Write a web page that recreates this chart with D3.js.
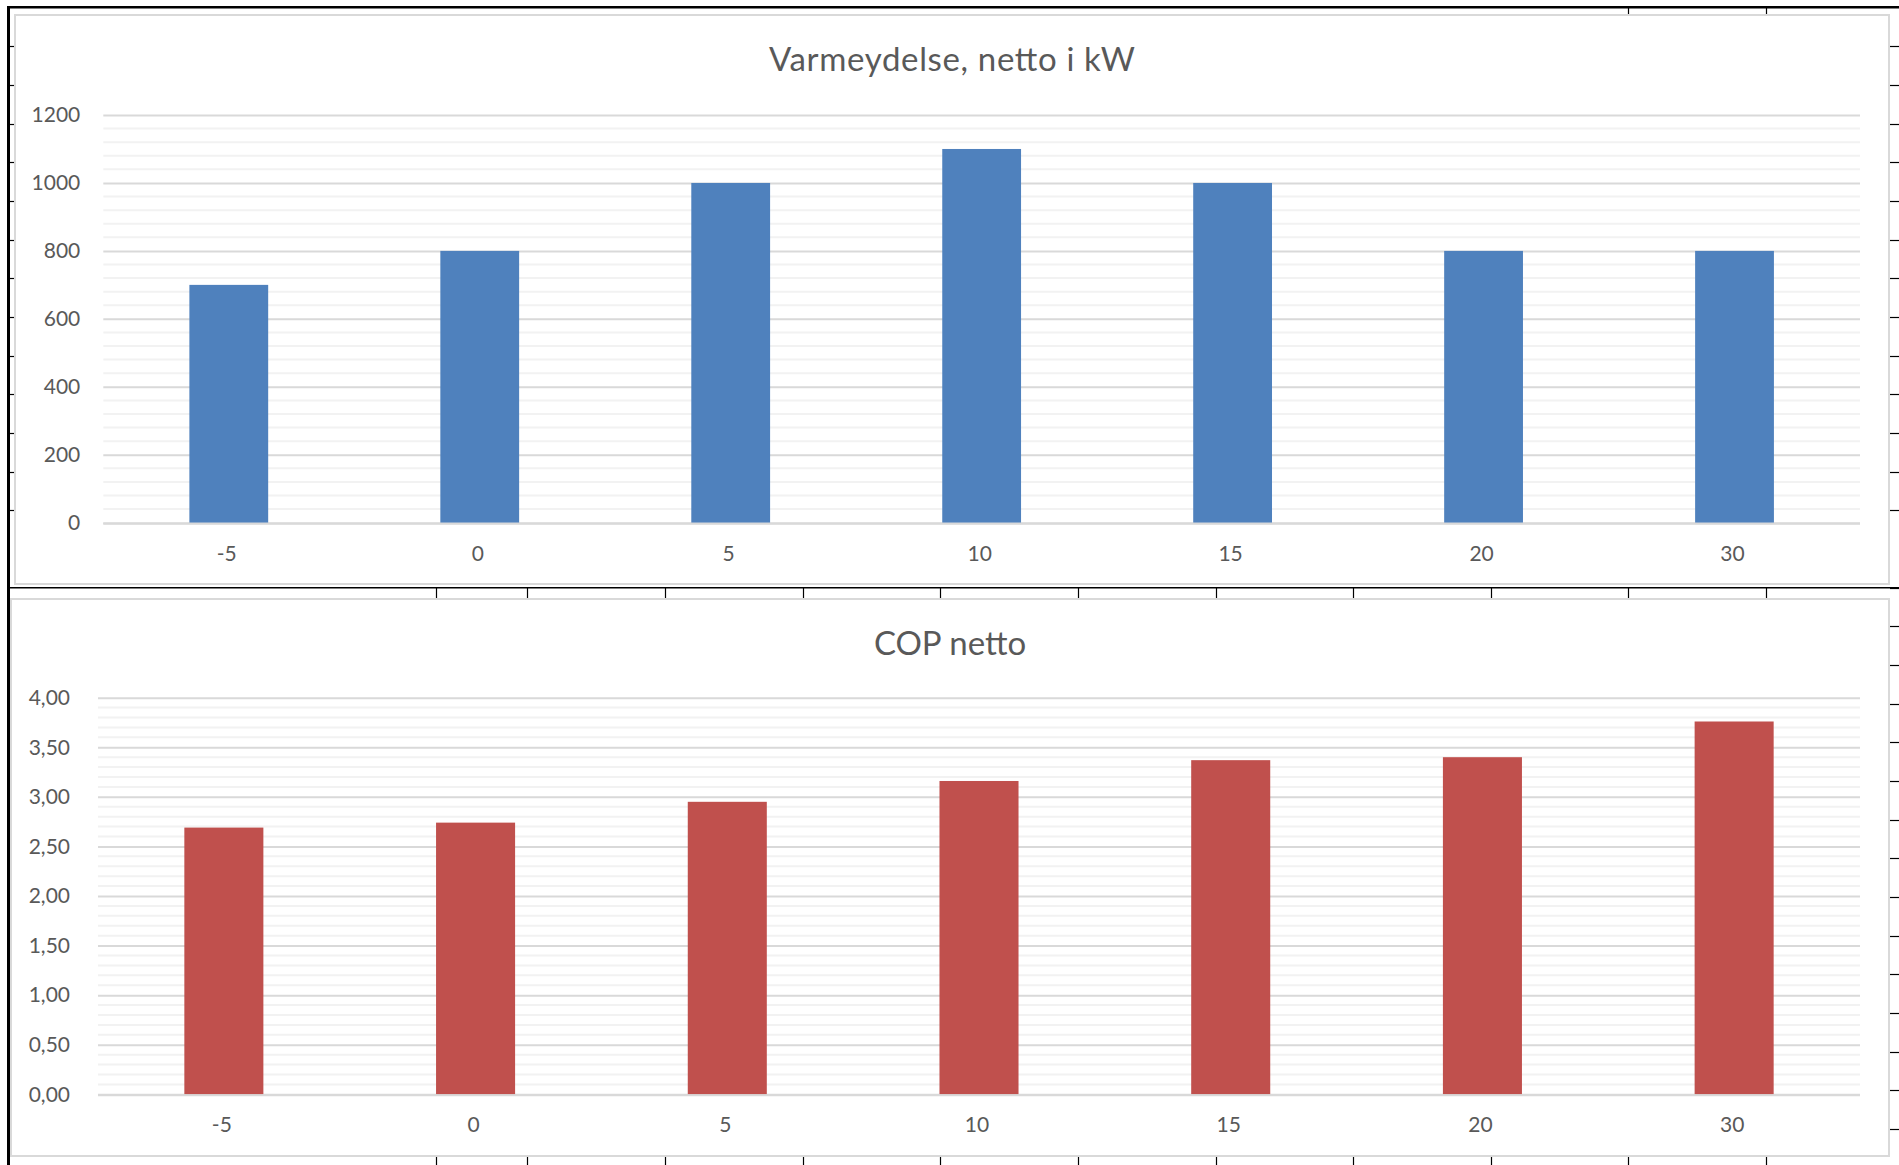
<!DOCTYPE html>
<html>
<head>
<meta charset="utf-8">
<script src="https://cdn.jsdelivr.net/npm/d3@7"></script>
<style>
  html, body { margin: 0; padding: 0; background: #ffffff; }
  svg { display: block; }
  text { font-family: Lato, "Open Sans", sans-serif; fill: #595959; }
</style>
</head>
<body>
<svg id="sheet" width="1899" height="1165"></svg>
<script>
// Outdoor temperature categories (°C)
const categories = ["-5", "0", "5", "10", "15", "20", "30"];
// Net heating output, kW
const heatOutput = [700, 800, 1000, 1100, 1000, 800, 800];
// Net coefficient of performance
const copValues = [2.69, 2.74, 2.95, 3.16, 3.37, 3.40, 3.76];
// Axis ticks
const heatTicks = [0, 200, 400, 600, 800, 1000, 1200];
const copTicks = [0, 0.5, 1, 1.5, 2, 2.5, 3, 3.5, 4];

const svg = d3.select("#sheet");
const W = 1899, H = 1165;

// Worksheet cell borders visible around the embedded charts
const rowH = 38.66, row0 = 7.8;
const colLines = [436, 527, 665, 803, 940, 1078, 1216, 1353, 1491, 1628, 1766];
const sheet = svg.append("g").attr("class", "sheet");
sheet.append("rect").attr("x", 7).attr("y", 6).attr("width", 3).attr("height", H - 6).attr("fill", "#000");
sheet.append("rect").attr("x", 7).attr("y", 6).attr("width", W - 7).attr("height", 2.5).attr("fill", "#000");
sheet.append("rect").attr("x", 10).attr("y", 587).attr("width", W - 10).attr("height", 1.5).attr("fill", "#000");
for (let k = 1; k * rowH + row0 < H; k++) {
  const y = Math.round(row0 + k * rowH) + 0.5;
  if (k === 14) continue;
  if (k < 14) sheet.append("line").attr("x1", 10).attr("x2", 14).attr("y1", y).attr("y2", y).attr("stroke", "#000").attr("stroke-width", 1.2);
  sheet.append("line").attr("x1", 1890).attr("x2", W).attr("y1", y).attr("y2", y).attr("stroke", "#000").attr("stroke-width", 1.2);
}
[1628, 1766].forEach(x => sheet.append("line").attr("x1", x + 0.5).attr("x2", x + 0.5).attr("y1", 8).attr("y2", 14).attr("stroke", "#000").attr("stroke-width", 1.2));
colLines.forEach(x => {
  sheet.append("line").attr("x1", x + 0.5).attr("x2", x + 0.5).attr("y1", 588).attr("y2", 598).attr("stroke", "#000").attr("stroke-width", 1.2);
  sheet.append("line").attr("x1", x + 0.5).attr("x2", x + 0.5).attr("y1", 1157).attr("y2", H).attr("stroke", "#000").attr("stroke-width", 1.2);
});

const commaLocale = d3.formatLocale({ decimal: ",", thousands: ".", grouping: [3], currency: ["", " kr"] });

function barChart(cfg) {
  const g = svg.append("g");
  // chart area with its light frame
  g.append("rect")
    .attr("x", cfg.frame.x).attr("y", cfg.frame.y)
    .attr("width", cfg.frame.w).attr("height", cfg.frame.h)
    .attr("fill", "#ffffff").attr("stroke", "#d9d9d9").attr("stroke-width", 2);

  const title = g.append("text")
    .attr("x", cfg.frame.x + cfg.frame.w / 2).attr("y", cfg.titleY)
    .attr("text-anchor", "middle").style("font-size", "33px")
    .text(cfg.title);
  if (cfg.titleWidth) title.attr("textLength", cfg.titleWidth).attr("lengthAdjust", "spacing");

  const x = d3.scaleBand().domain(categories)
    .range([cfg.plot.left, cfg.plot.right])
    .paddingInner(0.686).paddingOuter(0.343);
  const y = d3.scaleLinear().domain(cfg.domain).range([cfg.plot.bottom, cfg.plot.top]);

  // minor gridlines
  const minor = d3.range(cfg.domain[0], cfg.domain[1] + cfg.minorStep / 2, cfg.minorStep)
    .filter(v => Math.abs(v / cfg.majorStep - Math.round(v / cfg.majorStep)) > 1e-6);
  g.append("g").selectAll("line").data(minor).join("line")
    .attr("x1", cfg.plot.left).attr("x2", cfg.plot.right)
    .attr("y1", d => y(d)).attr("y2", d => y(d))
    .attr("stroke", "#f2f2f2").attr("stroke-width", 2);

  // major gridlines and value labels via a left axis
  const yAxis = d3.axisLeft(y).tickValues(cfg.ticks).tickFormat(cfg.fmt)
    .tickSize(-(cfg.plot.right - cfg.plot.left)).tickPadding(cfg.labelPad);
  const ya = g.append("g").attr("transform", `translate(${cfg.plot.left},0)`).call(yAxis);
  ya.select(".domain").remove();
  ya.selectAll(".tick line").attr("stroke", "#d9d9d9").attr("stroke-width", 2);
  ya.selectAll(".tick text").attr("fill", "#595959").style("font-size", "21px")
    .style("font-family", "Lato, 'Open Sans', sans-serif");

  // bars
  g.append("g").selectAll("rect").data(cfg.values).join("rect")
    .attr("x", (d, i) => x(categories[i]))
    .attr("width", x.bandwidth())
    .attr("y", d => y(d))
    .attr("height", d => y(cfg.domain[0]) - y(d))
    .attr("fill", cfg.color);

  // baseline over bar feet
  g.append("line").attr("x1", cfg.plot.left).attr("x2", cfg.plot.right)
    .attr("y1", y(0) + 1).attr("y2", y(0) + 1).attr("stroke", "#d9d9d9").attr("stroke-width", 2);

  // category axis
  const xAxis = d3.axisBottom(x).tickSize(0).tickPadding(23);
  const xa = g.append("g").attr("transform", `translate(-2,${y(0)})`).call(xAxis);
  xa.select(".domain").remove();
  xa.selectAll(".tick text").attr("fill", "#595959").style("font-size", "21px")
    .style("font-family", "Lato, 'Open Sans', sans-serif");
}

barChart({
  frame: { x: 15, y: 15, w: 1874, h: 569 },
  title: "Varmeydelse, netto i kW",
  titleY: 71,
  titleWidth: 366,
  plot: { left: 103.3, right: 1860, top: 115, bottom: 522.7 },
  domain: [0, 1200],
  ticks: heatTicks,
  majorStep: 200, minorStep: 40,
  fmt: d3.format("d"),
  labelPad: 23,
  values: heatOutput,
  color: "#4f81bd"
});

barChart({
  frame: { x: 11, y: 599, w: 1878, h: 557 },
  title: "COP netto",
  titleY: 655,
  plot: { left: 98, right: 1860, top: 697.7, bottom: 1094.3 },
  domain: [0, 4],
  ticks: copTicks,
  majorStep: 0.5, minorStep: 0.1,
  fmt: commaLocale.format(".2f"),
  labelPad: 28,
  values: copValues,
  color: "#c0504d"
});
</script>
</body>
</html>
